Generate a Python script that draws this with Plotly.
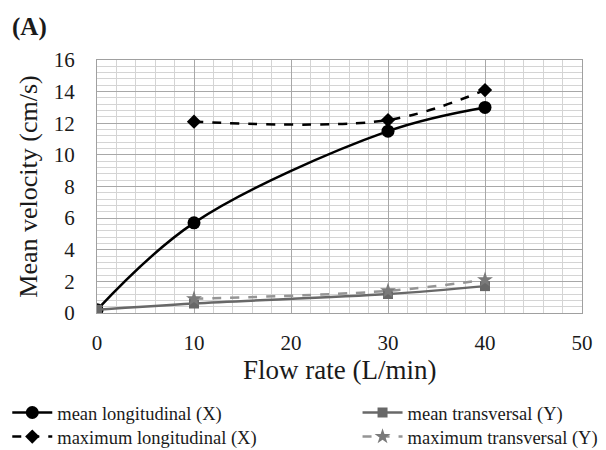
import plotly.graph_objects as go

flow_ml = [0, 10, 30, 40]
mean_long = [0.2, 5.7, 11.5, 13.0]
flow_mt = [0, 10, 30, 40]
mean_trans = [0.2, 0.6, 1.2, 1.7]
flow_xl = [10, 30, 40]
max_long = [12.1, 12.2, 14.1]
flow_xt = [10, 30, 40]
max_trans = [0.9, 1.4, 2.1]

FONT = "Liberation Serif"
TXT = "#1a1a1a"
fig = go.Figure()
fig.add_trace(go.Scatter(x=flow_ml, y=mean_long, name="mean longitudinal (X)", legend="legend",
                         mode="lines+markers", line=dict(color="black", width=2.5, shape="spline"),
                         marker=dict(symbol="circle", size=13, color="black")))
fig.add_trace(go.Scatter(x=flow_mt, y=mean_trans, name="mean transversal (Y)", legend="legend2",
                         mode="lines+markers", line=dict(color="#686868", width=2.5, shape="spline"),
                         marker=dict(symbol="square", size=10, color="#686868")))
fig.add_trace(go.Scatter(x=flow_xl, y=max_long, name="maximum longitudinal (X)", legend="legend3",
                         mode="lines+markers", line=dict(color="black", width=2.5, dash="dash", shape="spline"),
                         marker=dict(symbol="diamond", size=11, color="black")))
fig.add_trace(go.Scatter(x=flow_xt, y=max_trans, name="maximum transversal (Y)", legend="legend4",
                         mode="lines+markers", line=dict(color="#959595", width=2.5, dash="dash", shape="spline"),
                         marker=dict(symbol="star", size=12, color="#7a7a7a")))

axis_common = dict(showline=True, linecolor="#a0a0a0", linewidth=1, mirror=True,
                   gridcolor="#a8a8a8", gridwidth=1, zeroline=False,
                   tickfont=dict(family=FONT, size=21, color=TXT),
                   ticks="", automargin=False)
fig.update_xaxes(range=[0, 50], dtick=10, tick0=0,
                 minor=dict(dtick=2, showgrid=True, gridcolor="#d4d4d4", gridwidth=1),
                 ticklabelstandoff=11, **axis_common)
fig.update_yaxes(range=[0, 16], dtick=2, tick0=0,
                 minor=dict(dtick=0.4, showgrid=True, gridcolor="#d4d4d4", gridwidth=1),
                 ticklabelstandoff=17, **axis_common)

# axis titles and panel label
fig.add_annotation(text="Flow rate (L/min)", xref="paper", yref="paper", x=0.5, y=-0.225,
                   xanchor="center", yanchor="middle", showarrow=False,
                   font=dict(family=FONT, size=27, color=TXT))
fig.add_annotation(text="Mean velocity (cm/s)", xref="paper", yref="paper", x=-0.142, y=0.5,
                   xanchor="center", yanchor="middle", showarrow=False, textangle=-90,
                   font=dict(family=FONT, size=26, color=TXT))
fig.add_annotation(text="<b>(A)</b>", xref="paper", yref="paper", x=-0.18, y=1.13,
                   xanchor="left", yanchor="middle", showarrow=False,
                   font=dict(family=FONT, size=25, color=TXT))

leg_common = dict(orientation="v", xref="container", yref="container",
                  xanchor="left", yanchor="middle", tracegroupgap=0, itemwidth=40,
                  font=dict(family=FONT, size=18.5, color=TXT), bgcolor="rgba(0,0,0,0)")
row1 = 1 - 413 / 450
row2 = 1 - 437 / 450
fig.update_layout(
    width=606, height=450,
    margin=dict(l=97, r=24, t=60, b=137, autoexpand=False),
    paper_bgcolor="white", plot_bgcolor="white",
    showlegend=True,
    legend=dict(x=0.012, y=row1, **leg_common),
    legend2=dict(x=0.59, y=row1, **leg_common),
    legend3=dict(x=0.012, y=row2, **leg_common),
    legend4=dict(x=0.59, y=row2, **leg_common),
)
fig.write_html("out.html")
